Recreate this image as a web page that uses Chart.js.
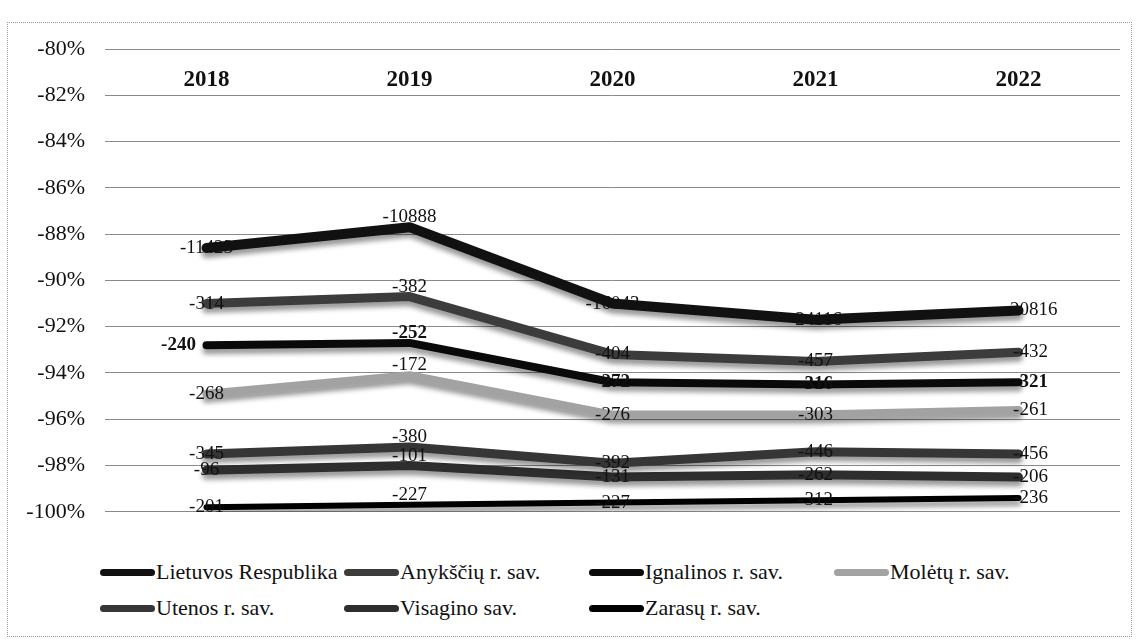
<!DOCTYPE html>
<html>
<head>
<meta charset="utf-8">
<script src="https://cdn.jsdelivr.net/npm/chart.js@4"></script>
<style>
  body { margin: 0; background: #fff; }
  #wrap { position: relative; width: 1138px; height: 642px; }
  #frame { position: absolute; left: 7px; top: 22px; width: 1123px; height: 613px; border: 1px dotted #999; }
  #cv { position: absolute; left: 0; top: 0; }
  #legend { position: absolute; left: 100px; top: 558px; width: 1000px;
    display: grid; grid-template-columns: 244px 245px 245px 245px; row-gap: 8px;
    font-family: "Liberation Serif", "Times New Roman", "DejaVu Serif", serif; font-size: 22px; color: #111; }
  .item { display: flex; align-items: center; height: 28px; white-space: nowrap; }
  .sw { width: 55px; height: 7px; border-radius: 4px; margin-right: 1px; }
</style>
</head>
<body>
<div id="wrap">
  <div id="frame"></div>
  <canvas id="cv" width="1138" height="545"></canvas>
  <div id="legend"></div>
</div>
<script>
const years = ["2018", "2019", "2020", "2021", "2022"];
const names = ["Lietuvos Respublika", "Anykščių r. sav.", "Ignalinos r. sav.", "Molėtų r. sav.",
  "Utenos r. sav.", "Visagino sav.", "Zarasų r. sav."];

// percentage change values (y position)
const lietuvaPct = [-88.6, -87.7, -91.0, -91.7, -91.3];
const anyksciuPct = [-91.0, -90.7, -93.2, -93.5, -93.1];
const ignalinosPct = [-92.8, -92.7, -94.4, -94.5, -94.4];
const moletuPct = [-94.9, -94.1, -95.8, -95.8, -95.6];
const utenosPct = [-97.5, -97.2, -97.9, -97.4, -97.5];
const visaginoPct = [-98.2, -98.0, -98.5, -98.4, -98.5];
const zarasuPct = [-99.8, -99.7, -99.6, -99.5, -99.4];

// data labels (absolute change)
const lietuvaLbl = [-11423, -10888, -16043, -24116, -20816];
const anyksciuLbl = [-314, -382, -404, -457, -432];
const ignalinosLbl = [-240, -252, -272, -316, -321];
const moletuLbl = [-268, -172, -276, -303, -261];
const utenosLbl = [-345, -380, -392, -446, -456];
const visaginoLbl = [-96, -101, -131, -262, -206];
const zarasuLbl = [-201, -227, -227, -312, -236];

const yTicks = [-80, -82, -84, -86, -88, -90, -92, -94, -96, -98, -100];

const pcts = [lietuvaPct, anyksciuPct, ignalinosPct, moletuPct, utenosPct, visaginoPct, zarasuPct];
const lbls = [lietuvaLbl, anyksciuLbl, ignalinosLbl, moletuLbl, utenosLbl, visaginoLbl, zarasuLbl];
const colors = ["#111111", "#3c3c3c", "#0a0a0a", "#a2a2a2", "#363636", "#2e2e2e", "#000000"];
const widths = [10, 9, 8, 8, 9, 9, 6];

const serif = "'Liberation Serif', 'Times New Roman', 'DejaVu Serif', serif";

const shadowPlugin = {
  id: "shadow",
  beforeDatasetDraw(chart) {
    const c = chart.ctx;
    c.save();
    c.shadowColor = "rgba(0,0,0,0.4)";
    c.shadowOffsetY = 5;
    c.shadowBlur = 5;
  },
  afterDatasetDraw(chart) {
    chart.ctx.restore();
  }
};

const labelPlugin = {
  id: "valueLabels",
  afterDatasetsDraw(chart) {
    const c = chart.ctx;
    c.save();
    c.textAlign = "center";
    c.textBaseline = "middle";
    c.fillStyle = "#111";
    chart.data.datasets.forEach((ds, di) => {
      const meta = chart.getDatasetMeta(di);
      meta.data.forEach((pt, i) => {
        let dx = 0, dy = 0;
        if (i === 1) dy = -10;
        if (i === 4) dx = 12;
        if (di === 2 && i === 0) dx = -28;
        c.font = (di === 2 ? "bold " : "") + "19px " + serif;
        c.fillText(String(ds.valueLabels[i]), pt.x + dx, pt.y + dy);
      });
    });
    // year labels inside the top of the plot
    const xs = chart.scales.x;
    c.font = "bold 23px " + serif;
    years.forEach((y, i) => {
      c.fillText(y, xs.getPixelForValue(i), 80);
    });
    c.restore();
  }
};

new Chart(document.getElementById("cv"), {
  type: "line",
  data: {
    labels: years,
    datasets: names.map((n, i) => ({
      label: n,
      data: pcts[i],
      valueLabels: lbls[i],
      borderColor: colors[i],
      borderWidth: widths[i],
      borderCapStyle: "round",
      borderJoinStyle: "round",
      pointRadius: 0,
      tension: 0,
      fill: false
    }))
  },
  options: {
    responsive: false,
    animation: false,
    layout: { padding: { left: 0, top: 49, right: 18, bottom: 19 } },
    plugins: { legend: { display: false }, tooltip: { enabled: false } },
    scales: {
      x: { display: false, offset: true },
      y: {
        min: -100,
        max: -80,
        afterFit(scale) { scale.width = 105; },
        afterBuildTicks(scale) { scale.ticks = yTicks.map(v => ({ value: v })); },
        border: { display: false },
        grid: { color: "#8a8a8a", lineWidth: 1, drawTicks: false },
        ticks: {
          padding: 20,
          color: "#111",
          font: { family: serif, size: 22 },
          callback: v => v + "%"
        }
      }
    }
  },
  plugins: [shadowPlugin, labelPlugin]
});

// legend
const leg = document.getElementById("legend");
names.forEach((n, i) => {
  const it = document.createElement("div");
  it.className = "item";
  if (i === 4) it.style.gridColumn = "1";
  const sw = document.createElement("span");
  sw.className = "sw";
  sw.style.background = colors[i];
  const tx = document.createElement("span");
  tx.textContent = n;
  it.appendChild(sw);
  it.appendChild(tx);
  leg.appendChild(it);
});
</script>
</body>
</html>
